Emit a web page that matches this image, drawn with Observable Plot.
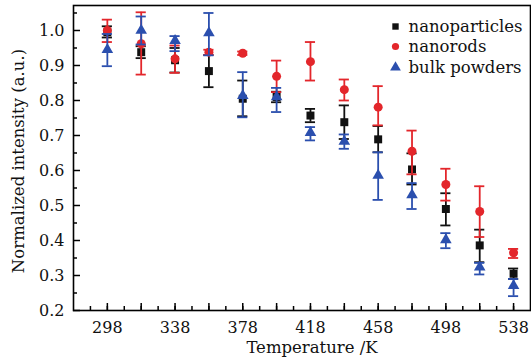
<!DOCTYPE html>
<html><head><meta charset="utf-8">
<script src="https://cdn.jsdelivr.net/npm/d3@7"></script>
<script src="https://cdn.jsdelivr.net/npm/@observablehq/plot@0.6"></script>
<style>body{margin:0;background:#fff;} svg{font-family:"DejaVu Serif",serif;}</style>
</head><body><div id="chart"></div>
<script>
const temps = [298,318,338,358,378,398,418,438,458,478,498,518,538];
const xTickLabels = [298,338,378,418,458,498,538];
const yTickLabels = [0.2,0.3,0.4,0.5,0.6,0.7,0.8,0.9,1.0];

const npVal = [0.995,0.938,0.915,0.884,0.805,0.81,0.757,0.738,0.689,0.603,0.49,0.386,0.305];
const npLo  = [0.98,0.921,0.88,0.838,0.755,0.795,0.738,0.69,0.652,0.56,0.443,0.338,0.29];
const npHi  = [1.012,0.955,0.95,0.93,0.857,0.825,0.776,0.786,0.727,0.649,0.535,0.431,0.32];

const nrVal = [1.0,0.962,0.919,0.938,0.935,0.869,0.911,0.831,0.781,0.655,0.56,0.483,0.365];
const nrLo  = [0.967,0.874,0.879,0.93,0.93,0.824,0.857,0.80,0.729,0.589,0.514,0.41,0.35];
const nrHi  = [1.031,1.052,0.957,0.945,0.94,0.914,0.967,0.86,0.841,0.714,0.605,0.555,0.376];

const bpVal = [0.945,1.0,0.971,0.993,0.814,0.81,0.708,0.683,0.586,0.53,0.402,0.324,0.271];
const bpLo  = [0.898,0.96,0.941,0.929,0.752,0.767,0.686,0.662,0.516,0.49,0.378,0.303,0.241];
const bpHi  = [0.99,1.04,0.984,1.05,0.881,0.836,0.724,0.703,0.652,0.564,0.421,0.336,0.29];

const seriesNames = ["nanoparticles","nanorods","bulk powders"];
const colors = ["#111111","#e3262b","#2b4fae"];
const symbols = ["square","circle","triangle"];

const series = [
  {name: seriesNames[0], val: npVal, lo: npLo, hi: npHi},
  {name: seriesNames[1], val: nrVal, lo: nrLo, hi: nrHi},
  {name: seriesNames[2], val: bpVal, lo: bpLo, hi: bpHi}
];
const rows = series.flatMap((s, si) => temps.map((t, i) => ({series: si, x: t, y: s.val[i], lo: s.lo[i], hi: s.hi[i]})));

const W = 531, H = 361, mL = 73, mR = 1, mT = 5, mB = 51;
const plotW = W - mL - mR, plotH = H - mT - mB;
const capHalf = 3;

const marks = [];
// inward ticks
marks.push(Plot.tickX(d3.range(288, 548, 10), {x: d => d, stroke: "#000", strokeWidth: 1.5, insetTop: plotH - 4}));
marks.push(Plot.tickX(d3.range(298, 548, 20), {x: d => d, stroke: "#000", strokeWidth: 1.5, insetTop: plotH - 7}));
marks.push(Plot.tickY(d3.range(0.25, 1.06, 0.1), {y: d => d, stroke: "#000", strokeWidth: 1.5, insetRight: plotW - 4}));
marks.push(Plot.tickY(yTickLabels, {y: d => d, stroke: "#000", strokeWidth: 1.5, insetRight: plotW - 7}));
marks.push(Plot.axisX(xTickLabels, {tickSize: 0, tickPadding: 11, fontSize: 16, label: null, tickFormat: d => d}));
marks.push(Plot.axisY(yTickLabels, {tickSize: 0, tickPadding: 9, fontSize: 16, label: null, tickFormat: d3.format(".1f")}));
marks.push(Plot.frame({stroke: "#000", strokeWidth: 1.6}));

series.forEach((s, si) => {
  const d = rows.filter(r => r.series === si);
  marks.push(Plot.ruleX(d, {x: "x", y1: "lo", y2: "hi", stroke: colors[si], strokeWidth: 1.8}));
  marks.push(Plot.ruleY(d, {y: "lo", x1: r => r.x - capHalf, x2: r => r.x + capHalf, stroke: colors[si], strokeWidth: 1.8}));
  marks.push(Plot.ruleY(d, {y: "hi", x1: r => r.x - capHalf, x2: r => r.x + capHalf, stroke: colors[si], strokeWidth: 1.8}));
  marks.push(Plot.dot(d, {x: "x", y: "y", fill: colors[si], stroke: "none", symbol: symbols[si], r: si === 2 ? 4.3 : 4.5}));
});

// legend
const legendDy = [21, 41, 62];
series.forEach((s, si) => {
  marks.push(Plot.dot([s.name], {frameAnchor: "top-right", dx: -135, dy: legendDy[si], fill: colors[si], symbol: symbols[si], r: si === 2 ? 4 : 3.6}));
  marks.push(Plot.text([s.name], {text: d => d, frameAnchor: "top-right", dx: -122, dy: legendDy[si], textAnchor: "start", lineAnchor: "middle", fontSize: 16.5, fill: "#111"}));
});

// axis titles
marks.push(Plot.text(["Temperature /K"], {text: d => d, frameAnchor: "bottom", dy: 37, dx: 10, textAnchor: "middle", lineAnchor: "middle", fontSize: 16.5, fill: "#111"}));
marks.push(Plot.text(["Normalized intensity (a.u.)"], {text: d => d, frameAnchor: "left", dx: -55, dy: 3, rotate: -90, textAnchor: "middle", lineAnchor: "middle", fontSize: 16.5, fill: "#111"}));

const chart = Plot.plot({
  width: W, height: H,
  marginLeft: mL, marginRight: mR, marginTop: mT, marginBottom: mB,
  style: {fontFamily: "DejaVu Serif, serif", fontSize: "16px", color: "#111", background: "#fff"},
  x: {domain: [278, 548], axis: null},
  y: {domain: [0.2, 1.0714], axis: null},
  marks
});
document.getElementById("chart").appendChild(chart);
</script>
</body></html>
